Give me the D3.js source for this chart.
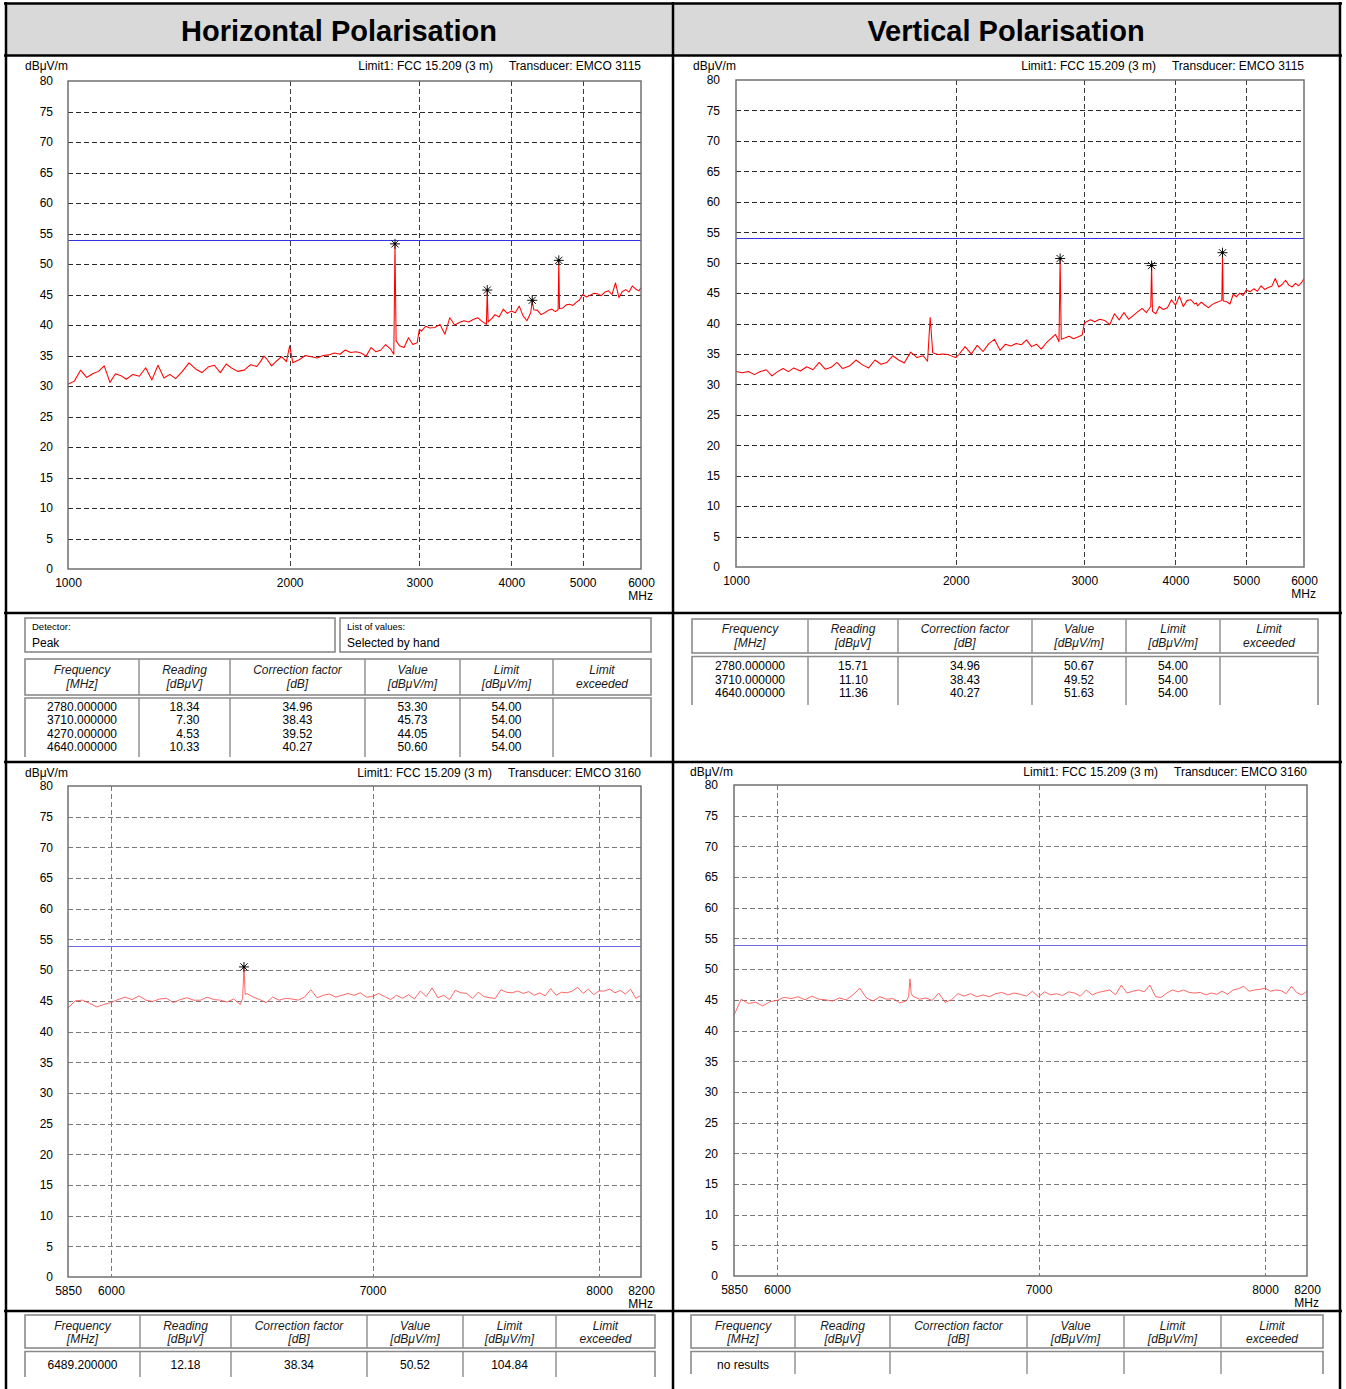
<!DOCTYPE html>
<html><head><meta charset="utf-8">
<script src="https://cdn.jsdelivr.net/npm/d3@7"></script>
<style>
body{margin:0;background:#fff}
svg{display:block}
text{font-family:"Liberation Sans",Arial,sans-serif}
</style></head>
<body>
<svg id="c" width="1346" height="1389"></svg>
<script>
// ---------------- DATA ----------------
const titles = ["Horizontal Polarisation", "Vertical Polarisation"];
const yTicks = [0,5,10,15,20,25,30,35,40,45,50,55,60,65,70,75,80];
const topXTicks = [1000,2000,3000,4000,5000,6000];
const bottomXTicks = [5850,6000,7000,8000,8200];
const limitLevel = 54;
const limitLabel = "Limit1: FCC 15.209 (3 m)";
const transducerLow = "Transducer: EMCO 3115";
const transducerHigh = "Transducer: EMCO 3160";

// sweep frequencies (MHz) 1-6 GHz
const topFreqs = [1000,1020,1040,1060,1080,1100,1120,1140,1160,1180,
1200,1225,1250,1275,1300,1325,1350,1375,1400,1430,
1460,1490,1520,1550,1580,1610,1640,1670,1700,1735,
1770,1805,1830,1845,1860,1890,1920,1950,1980,2000,
2020,2060,2100,2140,2180,2220,2260,2300,2340,2380,
2420,2460,2500,2540,2580,2620,2660,2700,2740,2770,
2780,2790,2820,2860,2900,2940,2980,3000,3020,3060,
3100,3150,3200,3250,3300,3350,3400,3450,3500,3550,
3600,3650,3700,3710,3720,3760,3800,3850,3900,3950,
4000,4050,4100,4150,4200,4250,4270,4290,4340,4390,
4440,4490,4540,4590,4630,4640,4650,4700,4750,4800,
4850,4900,4950,5000,5060,5120,5180,5240,5300,5360,
5420,5480,5540,5600,5660,5720,5780,5840,5900,5960,6000];

// horizontal, 1-6 GHz (dBuV/m)
const hLowTrace = [30.3,30.8,32.6,31.4,32.0,32.4,33.3,30.6,32.0,31.7,
31.1,31.9,31.6,33.0,31.0,33.4,31.3,31.9,31.2,32.4,
33.8,32.8,32.2,33.1,33.4,32.2,33.6,32.9,32.4,32.6,
33.5,33.2,34.2,34.9,34.5,33.3,34.1,34.8,34.0,36.6,
33.8,34.3,35.0,34.8,34.6,35.0,35.1,35.4,35.2,35.9,
35.5,35.6,35.4,34.9,36.3,35.6,35.9,36.8,36.1,35.2,
53.3,37.4,36.6,36.3,37.9,36.8,37.1,39.3,39.0,39.8,
39.5,39.6,40.1,38.5,41.2,40.0,40.4,40.7,40.5,40.9,
41.2,40.6,40.1,45.73,40.5,41.0,41.7,41.3,42.6,41.9,
42.3,42.0,43.1,41.5,40.7,42.0,44.05,42.5,42.4,41.7,
42.0,42.4,42.6,42.2,42.5,50.6,42.7,42.8,43.3,43.4,
43.2,43.7,44.1,45.0,44.6,44.9,45.2,45.1,44.8,45.4,
45.6,45.0,46.9,44.5,45.5,45.8,45.4,46.4,45.9,45.6,46.1];

// vertical, 1-6 GHz (dBuV/m)
const vLowTrace = [32.1,31.9,32.1,31.6,32.1,32.4,31.4,32.1,32.6,32.1,
32.7,32.2,32.9,32.4,33.6,32.5,32.8,33.6,32.6,33.0,
34.0,33.2,32.7,34.0,33.3,33.6,34.7,34.0,33.5,35.3,
34.4,34.7,33.8,41.0,35.2,34.9,35.0,34.9,34.6,34.4,
34.9,36.2,35.0,36.4,35.4,36.7,37.4,35.6,36.6,36.3,
36.7,36.5,37.3,36.2,36.6,35.8,36.8,37.5,38.2,37.0,
50.67,37.4,37.6,37.9,37.5,37.8,38.1,40.0,40.3,40.6,
40.3,40.7,40.5,39.8,41.6,40.6,41.8,40.7,41.3,41.9,
42.5,41.8,42.8,49.52,42.0,41.6,42.8,42.3,42.6,43.9,
43.0,44.5,42.8,43.8,43.9,43.2,43.4,42.9,43.5,43.0,
42.6,43.1,43.4,43.6,43.8,51.63,43.7,43.6,43.2,44.8,
44.4,45.0,44.6,45.5,45.2,45.7,45.3,46.2,45.6,45.9,
46.1,47.4,46.0,46.4,47.1,46.3,46.0,46.6,46.2,46.8,47.4];

// sweep frequencies (MHz) 5.85-8.2 GHz
const bottomFreqs = [5850,5875,5900,5925,5950,5975,6000,6025,6050,6075,
6100,6125,6150,6175,6200,6225,6250,6275,6300,6325,
6350,6375,6400,6425,6450,6475,6484,6489.2,6494,6500,
6525,6550,6575,6600,6625,6650,6675,6700,6725,6750,
6775,6800,6825,6850,6875,6900,6925,6950,6975,7000,
7025,7050,7075,7100,7125,7150,7175,7200,7225,7250,
7275,7300,7325,7350,7375,7400,7425,7450,7475,7500,
7525,7550,7575,7600,7625,7650,7675,7700,7725,7750,
7775,7800,7825,7850,7875,7900,7925,7950,7975,8000,
8025,8050,8075,8100,8125,8150,8175,8200];

const hHighTrace = [43.8,45.0,45.1,44.6,44.0,44.4,44.7,45.2,45.6,45.2,
45.8,45.1,44.9,45.3,45.4,44.7,45.2,45.5,45.1,45.1,
45.6,45.2,45.1,44.8,45.3,44.4,45.4,50.52,46.0,46.2,
45.6,45.2,44.7,45.6,45.1,45.4,45.3,45.1,45.6,46.8,
45.5,45.9,46.1,45.6,45.9,46.2,45.9,46.3,45.6,45.7,
46.2,45.7,45.2,45.9,45.4,46.0,45.3,46.6,45.7,47.1,
45.5,45.9,45.2,46.7,46.3,46.2,45.4,46.4,45.7,45.5,
45.4,46.8,46.4,46.3,46.6,46.2,46.5,45.9,46.3,45.8,
47.0,45.9,46.4,46.3,46.6,47.2,46.2,46.9,46.0,46.6,
46.6,46.9,46.3,46.7,46.1,46.9,45.4,45.9];

const vHighTrace = [42.5,45.1,44.4,44.6,44.0,44.7,44.9,45.4,45.2,45.5,
45.0,45.6,45.1,45.0,44.8,45.3,45.0,45.8,46.9,45.3,
44.8,45.5,45.1,45.2,44.5,44.8,45.5,48.4,46.0,45.6,
45.1,45.3,44.9,46.1,44.6,45.0,46.0,45.6,46.0,45.5,
45.8,45.5,46.0,46.2,45.8,46.1,45.9,45.6,46.4,45.5,
46.3,45.8,46.0,45.7,46.3,46.1,45.6,46.6,45.8,46.2,
46.4,46.6,45.8,47.4,46.1,46.4,46.6,46.3,47.4,45.5,
45.4,46.1,46.6,46.3,46.6,46.2,46.1,46.2,45.8,46.1,
45.9,46.4,45.9,46.6,46.8,47.2,46.4,46.6,46.7,46.9,
46.4,46.6,46.5,46.0,47.2,46.2,45.8,46.4];

// result tables
const tableHeaders = [["Frequency","[MHz]"],["Reading","[dBμV]"],["Correction factor","[dB]"],["Value","[dBμV/m]"],["Limit","[dBμV/m]"],["Limit","exceeded"]];

const hLowFreq = [2780, 3710, 4270, 4640];
const hLowReading = [18.34, 7.30, 4.53, 10.33];
const hLowCorr = [34.96, 38.43, 39.52, 40.27];
const hLowValue = [53.30, 45.73, 44.05, 50.60];
const hLowLimit = [54.00, 54.00, 54.00, 54.00];

const vLowFreq = [2780, 3710, 4640];
const vLowReading = [15.71, 11.10, 11.36];
const vLowCorr = [34.96, 38.43, 40.27];
const vLowValue = [50.67, 49.52, 51.63];
const vLowLimit = [54.00, 54.00, 54.00];

const hHighFreq = [6489.2];
const hHighReading = [12.18];
const hHighCorr = [38.34];
const hHighValue = [50.52];
const hHighLimit = [104.84];

const vHighFreq = [];
const vHighValue = [];

// ---------------- DRAWING ----------------
const FONT = '"Liberation Sans", Arial, sans-serif';
const svg = d3.select('#c');
const f6 = d3.format('.6f'), f2 = d3.format('.2f');

function line(g, x1, y1, x2, y2, stroke, w, dash){
  const l = g.append('line').attr('x1',x1).attr('y1',y1).attr('x2',x2).attr('y2',y2)
    .attr('stroke',stroke).attr('stroke-width',w);
  if (dash) l.attr('stroke-dasharray',dash);
  return l;
}
function txt(g, x, y, s, size, anchor, extra){
  const t = g.append('text').attr('x',x).attr('y',y).attr('font-size',size)
    .attr('text-anchor',anchor||'start').attr('fill','#000').text(s);
  if (extra) Object.entries(extra).forEach(([k,v])=>t.attr(k,v));
  return t;
}

// page frame
const frame = svg.append('g');
frame.append('rect').attr('x',6).attr('y',4).attr('width',1334).attr('height',51).attr('fill','#d9d9d9');
titles.forEach((t,i)=> txt(frame, i===0?339:1006, 41, t, 29, 'middle', {'font-weight':'bold'}));

function drawChart(c){
  const g = svg.append('g');
  const x = d3.scaleLog().domain(c.domain).range([c.left, c.right]);
  const y = d3.scaleLinear().domain([0,80]).range([c.bottom, c.top]);
  // horizontal grid
  g.append('g').selectAll('line').data(yTicks.slice(1,-1)).join('line')
    .attr('x1',c.left).attr('x2',c.right)
    .attr('y1',d=>Math.round(y(d))+0.5).attr('y2',d=>Math.round(y(d))+0.5)
    .attr('stroke',c.grid).attr('stroke-width',1).attr('stroke-dasharray','5,3');
  // vertical grid
  g.append('g').selectAll('line').data(c.ticks.slice(1,-1)).join('line')
    .attr('x1',d=>Math.round(x(d))+0.5).attr('x2',d=>Math.round(x(d))+0.5)
    .attr('y1',c.top).attr('y2',c.bottom)
    .attr('stroke',c.vgrid).attr('stroke-width',1).attr('stroke-dasharray','5,3');
  // limit line
  line(g, c.left, Math.round(y(limitLevel))+0.5, c.right, Math.round(y(limitLevel))+0.5, c.limitColor, 1.2);
  // trace
  const pts = d3.zip(c.freqs, c.values);
  g.append('path').datum(pts)
    .attr('d', d3.line().x(d=>x(d[0])).y(d=>y(d[1])))
    .attr('fill','none').attr('stroke',c.traceColor).attr('stroke-width',c.traceWidth)
    .attr('stroke-linejoin','round');
  // plot frame
  g.append('rect').attr('x',c.left).attr('y',c.top).attr('width',c.right-c.left).attr('height',c.bottom-c.top)
    .attr('fill','none').attr('stroke','#707070').attr('stroke-width',1.5);
  // markers
  const star = 'M-5,0L5,0M0,-5L0,5M-3.6,-3.6L3.6,3.6M-3.6,3.6L3.6,-3.6';
  g.append('g').selectAll('path').data(d3.zip(c.mFreq, c.mValue)).join('path')
    .attr('transform',d=>`translate(${x(d[0])},${y(d[1])})`)
    .attr('d',star).attr('stroke','#111').attr('stroke-width',1).attr('fill','none');
  g.append('g').selectAll('circle').data(d3.zip(c.mFreq, c.mValue)).join('circle')
    .attr('cx',d=>x(d[0])).attr('cy',d=>y(d[1])).attr('r',1.4).attr('fill','#000');
  // y axis labels
  const ya = g.append('g').attr('transform',`translate(${c.left},0)`)
    .call(d3.axisLeft(y).tickValues(yTicks).tickSize(0).tickPadding(c.yPad));
  ya.select('.domain').remove();
  ya.attr('font-size',12).attr('font-family',FONT);
  ya.selectAll('text').attr('fill','#000');
  // x axis labels
  const xa = g.append('g').attr('transform',`translate(0,${c.bottom})`)
    .call(d3.axisBottom(x).tickValues(c.ticks).tickFormat(d3.format('d')).tickSize(0).tickPadding(9));
  xa.select('.domain').remove();
  xa.attr('font-size',12).attr('font-family',FONT);
  xa.selectAll('text').attr('fill','#000');
  txt(g, c.right+12, c.bottom+31, 'MHz', 12, 'end');
  // header texts
  txt(g, c.unitX, c.headBase, 'dBμV/m', 12, 'start');
  const tr = txt(g, c.right, c.headBase, c.transducer, 12, 'end');
  const tw = tr.node().getComputedTextLength();
  txt(g, c.right - tw - 16, c.headBase, limitLabel, 12, 'end');
}

drawChart({left:68,right:641,top:81,bottom:569,domain:[1000,6000],ticks:topXTicks,
  freqs:topFreqs,values:hLowTrace,mFreq:hLowFreq,mValue:hLowValue,
  grid:'#2a2a2a',vgrid:'#3a3a3a',limitColor:'#3535e0',traceColor:'#ff0000',traceWidth:1.05,
  yPad:15,unitX:25,headBase:70,transducer:transducerLow});
drawChart({left:736,right:1304,top:80,bottom:567,domain:[1000,6000],ticks:topXTicks,
  freqs:topFreqs,values:vLowTrace,mFreq:vLowFreq,mValue:vLowValue,
  grid:'#2a2a2a',vgrid:'#3a3a3a',limitColor:'#3535e0',traceColor:'#ff0000',traceWidth:1.05,
  yPad:16,unitX:693,headBase:70,transducer:transducerLow});
drawChart({left:68,right:641,top:786,bottom:1277,domain:[5850,8200],ticks:bottomXTicks,
  freqs:bottomFreqs,values:hHighTrace,mFreq:hHighFreq,mValue:hHighValue,
  grid:'#7a7a7a',vgrid:'#7a7a7a',limitColor:'#6a6ae8',traceColor:'#ff5555',traceWidth:0.9,
  yPad:15,unitX:25,headBase:777,transducer:transducerHigh});
drawChart({left:734,right:1307,top:785,bottom:1276,domain:[5850,8200],ticks:bottomXTicks,
  freqs:bottomFreqs,values:vHighTrace,mFreq:vHighFreq,mValue:vHighValue,
  grid:'#7a7a7a',vgrid:'#7a7a7a',limitColor:'#6a6ae8',traceColor:'#ff5555',traceWidth:0.9,
  yPad:16,unitX:690,headBase:776,transducer:transducerHigh});

function drawTable(o){
  const g = svg.append('g');
  const cols = o.cols, L = cols[0], R = cols[cols.length-1];
  const bc = '#8a8a8a';
  g.append('rect').attr('x',L).attr('y',o.hTop).attr('width',R-L).attr('height',o.hBot-o.hTop)
    .attr('fill','none').attr('stroke',bc).attr('stroke-width',1.6);
  cols.slice(1,-1).forEach(cx=>line(g,cx,o.hTop,cx,o.hBot,bc,1.4));
  tableHeaders.forEach((h,i)=>{
    const cx = (cols[i]+cols[i+1])/2;
    h.forEach((s,j)=>txt(g,cx,o.hBase[j],s,12,'middle',{'font-style':'italic','fill':'#1a1a1a'}));
  });
  g.append('path').attr('d',`M${L},${o.dBot}V${o.dTop}H${R}V${o.dBot}`)
    .attr('fill','none').attr('stroke',bc).attr('stroke-width',1.6);
  cols.slice(1,-1).forEach(cx=>line(g,cx,o.dTop,cx,o.dBot,bc,1.4));
  o.columns.forEach((vals,i)=>{
    const cx = (cols[i]+cols[i+1])/2;
    const ts = vals.map((s,k)=>txt(g,cx,o.rowBase+k*o.rowStep,s,12,'middle'));
    if (ts.length){
      const mw = d3.max(ts, t=>t.node().getComputedTextLength());
      ts.forEach(t=>t.attr('text-anchor','end').attr('x',cx+mw/2));
    }
  });
}

function box(g,x0,y0,x1,y1,label,value){
  g.append('rect').attr('x',x0).attr('y',y0).attr('width',x1-x0).attr('height',y1-y0)
    .attr('fill','none').attr('stroke','#8a8a8a').attr('stroke-width',1.6);
  txt(g,x0+7,y0+12,label,9.5,'start');
  txt(g,x0+7,y0+29,value,12,'start');
}
const bx = svg.append('g');
box(bx,25,618,335,652,'Detector:','Peak');
box(bx,340,618,651,652,'List of values:','Selected by hand');

drawTable({cols:[25,139,230,365,460,553,651],hTop:659,hBot:695,hBase:[674,688],dTop:698,dBot:757,
  rowBase:710.5,rowStep:13.6,
  columns:[hLowFreq.map(f6),hLowReading.map(f2),hLowCorr.map(f2),hLowValue.map(f2),hLowLimit.map(f2),[]]});
drawTable({cols:[692,808,898,1032,1126,1220,1318],hTop:619,hBot:653,hBase:[633,646.5],dTop:656.5,dBot:705,
  rowBase:670,rowStep:13.6,
  columns:[vLowFreq.map(f6),vLowReading.map(f2),vLowCorr.map(f2),vLowValue.map(f2),vLowLimit.map(f2),[]]});
drawTable({cols:[25,140,231,367,463,556,655],hTop:1315,hBot:1348,hBase:[1329.5,1343],dTop:1351.5,dBot:1377,
  rowBase:1368.5,rowStep:13.6,
  columns:[hHighFreq.map(f6),hHighReading.map(f2),hHighCorr.map(f2),hHighValue.map(f2),hHighLimit.map(f2),[]]});
drawTable({cols:[691,795,890,1027,1124,1221,1323],hTop:1315,hBot:1348,hBase:[1329.5,1343],dTop:1351.5,dBot:1374,
  rowBase:1368.5,rowStep:13.6,
  columns:[['no results'],[],[],[],[],[]]});

// section lines (drawn last)
const sl = svg.append('g');
line(sl,4,3.5,1342,3.5,'#000',2.5);
line(sl,4,55.5,1342,55.5,'#000',2.5);
line(sl,4,613,1342,613,'#000',2.5);
line(sl,4,762,1342,762,'#000',2.5);
line(sl,4,1311,1342,1311,'#000',2.5);
line(sl,6,2,6,1389,'#000',2.5);
line(sl,1340,2,1340,1389,'#000',2.5);
line(sl,673,2,673,1389,'#000',2.5);
</script>
</body></html>
